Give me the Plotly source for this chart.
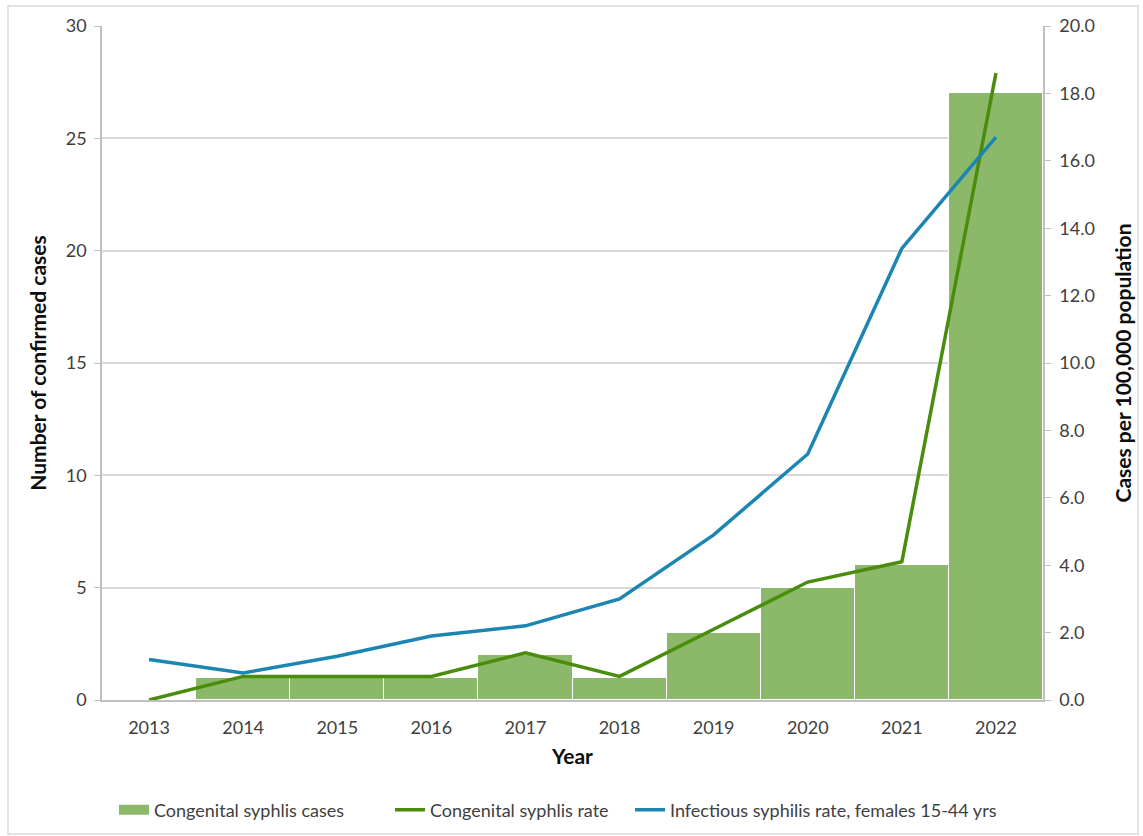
import plotly.graph_objects as go

years = ["2013", "2014", "2015", "2016", "2017", "2018", "2019", "2020", "2021", "2022"]
congenital_cases = [0, 1, 1, 1, 2, 1, 3, 5, 6, 27]
congenital_rate = [0.0, 0.7, 0.7, 0.7, 1.4, 0.7, 2.1, 3.5, 4.1, 18.6]
infectious_rate_f15_44 = [1.2, 0.8, 1.3, 1.9, 2.2, 3.0, 4.9, 7.3, 13.4, 16.7]

left_ticks = [0, 5, 10, 15, 20, 25, 30]
right_ticks = [0, 2, 4, 6, 8, 10, 12, 14, 16, 18, 20]

FONT = "Lato, 'Open Sans', sans-serif"
BAR_GREEN = "#8CB86A"
LINE_GREEN = "#4A8C0C"
LINE_BLUE = "#1C86B2"
AXIS_GREY = "#BFBFBF"
GRID_GREY = "#D9D9D9"
TEXT = "#404040"
TITLE = "#0D0D0D"

W, H = 1143, 836
L, R, T, B = 102, 100, 26, 136
pw, ph = W - L - R, H - T - B


def px_x(px):
    return (px - L) / pw


def px_y(py):
    return (H - B - py) / ph


fig = go.Figure()

fig.add_trace(go.Bar(
    x=years, y=congenital_cases, name="Congenital syphlis cases",
    marker=dict(color=BAR_GREEN, line=dict(color="white", width=1)),
    yaxis="y", showlegend=False,
))
# legend key for the bars: a wide flat swatch
fig.add_trace(go.Scatter(
    x=[years[0]], y=[None], name="Congenital syphlis cases",
    mode="lines", line=dict(color=BAR_GREEN, width=10),
    yaxis="y", legend="legend", hoverinfo="skip",
))
fig.add_trace(go.Scatter(
    x=years, y=congenital_rate, name="Congenital syphlis rate",
    mode="lines", line=dict(color=LINE_GREEN, width=3.5),
    yaxis="y2", legend="legend2",
))
fig.add_trace(go.Scatter(
    x=years, y=infectious_rate_f15_44, name="Infectious syphilis rate, females 15-44 yrs",
    mode="lines", line=dict(color=LINE_BLUE, width=3.5),
    yaxis="y2", legend="legend3",
))

legend_common = dict(
    orientation="h", xanchor="left",
    yref="container", y=(H - 810) / H, yanchor="middle",
    font=dict(family=FONT, size=18, color=TEXT),
    itemwidth=30, bgcolor="rgba(0,0,0,0)",
)

fig.update_layout(
    width=W, height=H,
    margin=dict(l=L, r=R, t=T, b=B, autoexpand=False),
    paper_bgcolor="white", plot_bgcolor="white",
    font=dict(family=FONT, size=18, color=TEXT),
    bargap=0,
    showlegend=True,
    legend=dict(x=px_x(114), **legend_common),
    legend2=dict(x=px_x(390), **legend_common),
    legend3=dict(x=px_x(630), **legend_common),
    xaxis=dict(
        type="category",
        showgrid=False, showline=True, linecolor=AXIS_GREY, linewidth=1.5,
        ticks="", tickfont=dict(size=18, color=TEXT), ticklabelstandoff=11,
        title=dict(text="<b>Year</b>", font=dict(size=21, color=TITLE), standoff=12),
    ),
    yaxis=dict(
        range=[0, 30], tickvals=left_ticks,
        showgrid=True, gridcolor=GRID_GREY, gridwidth=1.5,
        showline=True, linecolor=AXIS_GREY, linewidth=1.5,
        ticks="outside", ticklen=6, tickcolor=AXIS_GREY, ticklabelstandoff=4,
        tickfont=dict(size=18, color=TEXT), zeroline=False,
        title=dict(text="<b>Number of confirmed cases</b>", font=dict(size=21, color=TITLE), standoff=13),
    ),
    yaxis2=dict(
        range=[0, 20], tickvals=right_ticks, tickformat=".1f",
        overlaying="y", side="right", showgrid=False,
        showline=True, linecolor=AXIS_GREY, linewidth=1.5,
        ticks="outside", ticklen=6, tickcolor=AXIS_GREY, ticklabelstandoff=5,
        tickfont=dict(size=18, color=TEXT), zeroline=False,
        title=dict(text="<b>Cases per 100,000 population</b>", font=dict(size=21, color=TITLE), standoff=22),
    ),
    shapes=[dict(
        type="rect", xref="paper", yref="paper",
        x0=px_x(8), x1=px_x(1138), y0=px_y(834), y1=px_y(6),
        line=dict(color="#D9D9D9", width=1.5), fillcolor="rgba(0,0,0,0)", layer="below",
    )],
)

fig.write_html("out.html")
